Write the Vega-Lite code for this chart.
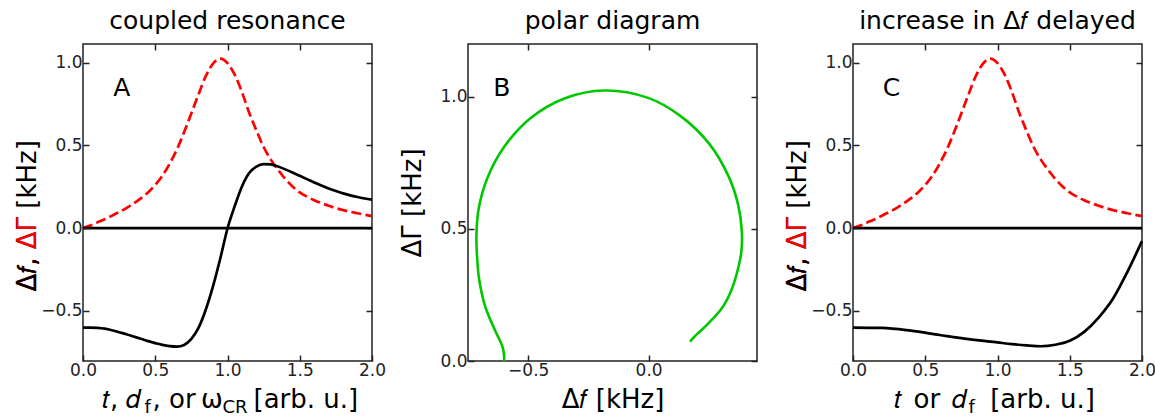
{
  "$schema": "https://vega.github.io/schema/vega-lite/v6.json",
  "padding": {"left": 13, "top": 8, "right": 2, "bottom": 2},
  "datasets": {
    "res": [
      {"x": 0.0, "df": -0.600, "dG": 0.000},
      {"x": 0.05, "df": -0.600, "dG": 0.016},
      {"x": 0.1, "df": -0.602, "dG": 0.035},
      {"x": 0.15, "df": -0.607, "dG": 0.054},
      {"x": 0.2, "df": -0.616, "dG": 0.075},
      {"x": 0.25, "df": -0.628, "dG": 0.097},
      {"x": 0.3, "df": -0.640, "dG": 0.121},
      {"x": 0.35, "df": -0.654, "dG": 0.149},
      {"x": 0.4, "df": -0.668, "dG": 0.180},
      {"x": 0.45, "df": -0.682, "dG": 0.216},
      {"x": 0.5, "df": -0.694, "dG": 0.261},
      {"x": 0.55, "df": -0.705, "dG": 0.317},
      {"x": 0.6, "df": -0.712, "dG": 0.390},
      {"x": 0.65, "df": -0.715, "dG": 0.476},
      {"x": 0.7, "df": -0.705, "dG": 0.580},
      {"x": 0.75, "df": -0.669, "dG": 0.694},
      {"x": 0.8, "df": -0.601, "dG": 0.809},
      {"x": 0.85, "df": -0.491, "dG": 0.919},
      {"x": 0.9, "df": -0.350, "dG": 0.994},
      {"x": 0.95, "df": -0.183, "dG": 1.024},
      {"x": 1.0, "df": -0.002, "dG": 0.996},
      {"x": 1.05, "df": 0.133, "dG": 0.927},
      {"x": 1.1, "df": 0.252, "dG": 0.822},
      {"x": 1.15, "df": 0.333, "dG": 0.697},
      {"x": 1.2, "df": 0.372, "dG": 0.590},
      {"x": 1.25, "df": 0.387, "dG": 0.490},
      {"x": 1.3, "df": 0.385, "dG": 0.414},
      {"x": 1.35, "df": 0.372, "dG": 0.352},
      {"x": 1.4, "df": 0.355, "dG": 0.297},
      {"x": 1.45, "df": 0.336, "dG": 0.252},
      {"x": 1.5, "df": 0.316, "dG": 0.216},
      {"x": 1.55, "df": 0.296, "dG": 0.190},
      {"x": 1.6, "df": 0.276, "dG": 0.169},
      {"x": 1.65, "df": 0.257, "dG": 0.151},
      {"x": 1.7, "df": 0.240, "dG": 0.135},
      {"x": 1.75, "df": 0.224, "dG": 0.121},
      {"x": 1.8, "df": 0.210, "dG": 0.109},
      {"x": 1.85, "df": 0.198, "dG": 0.099},
      {"x": 1.9, "df": 0.188, "dG": 0.090},
      {"x": 1.95, "df": 0.179, "dG": 0.081},
      {"x": 2.0, "df": 0.172, "dG": 0.073}
    ],
    "delay": [
      {"x": 0.0, "df": -0.600},
      {"x": 0.2, "df": -0.602},
      {"x": 0.4, "df": -0.619},
      {"x": 0.6, "df": -0.645},
      {"x": 0.8, "df": -0.670},
      {"x": 1.0, "df": -0.690},
      {"x": 1.1, "df": -0.700},
      {"x": 1.2, "df": -0.708},
      {"x": 1.3, "df": -0.713},
      {"x": 1.4, "df": -0.704},
      {"x": 1.5, "df": -0.680},
      {"x": 1.6, "df": -0.626},
      {"x": 1.7, "df": -0.540},
      {"x": 1.8, "df": -0.425},
      {"x": 1.9, "df": -0.262},
      {"x": 2.0, "df": -0.078}
    ],
    "one": [{"k": 1}]
  },
  "spacing": 96,
  "bounds": "flush",
  "hconcat": [
    {
      "width": 289, "height": 317,
      "title": "coupled resonance",
      "layer": [
        {
          "data": {"name": "res"},
          "mark": {"type": "line", "color": "#ff0000", "strokeWidth": 2.7, "strokeDash": [10, 4.3], "interpolate": "monotone"},
          "encoding": {
            "x": {"field": "x", "type": "quantitative", "scale": {"domain": [0, 2], "nice": false},
                  "axis": {"orient": "bottom", "values": [0, 0.5, 1, 1.5, 2], "format": ".1f", "title": "𝑡, 𝑑",
                           "titleAlign": "left", "titleBaseline": "alphabetic", "titleX": 18.4, "titleY": 46.7}},
            "y": {"field": "dG", "type": "quantitative", "scale": {"domain": [-0.802, 1.112], "nice": false, "zero": false},
                  "axis": {"orient": "left", "values": [-0.5, 0, 0.5, 1], "format": ".1f", "title": "Δ𝑓, ΔΓ [kHz]",
                           "titleAngle": 270, "titleAlign": "left", "titleBaseline": "alphabetic", "titleX": -48, "titleY": 247, "zindex": 1}}
          }
        },
        {
          "data": {"name": "res"},
          "mark": {"type": "line", "color": "black", "strokeWidth": 2.7, "interpolate": "monotone"},
          "encoding": {
            "x": {"field": "x", "type": "quantitative", "axis": {"orient": "top", "values": [0.5, 1, 1.5], "labels": false, "title": null}},
            "y": {"field": "df", "type": "quantitative", "axis": {"orient": "right", "values": [-0.5, 0, 0.5, 1], "labels": false, "title": null}}
          }
        },
        {
          "data": {"name": "one"},
          "mark": {"type": "rule", "color": "black", "strokeWidth": 2.7},
          "encoding": {
            "x": {"datum": 0, "type": "quantitative", "axis": {"orient": "bottom", "labels": false, "ticks": false, "title": "f", "titleFontSize": 18,
                  "titleAlign": "left", "titleBaseline": "alphabetic", "titleX": 61, "titleY": 51.5}},
            "x2": {"datum": 2},
            "y": {"datum": 0, "type": "quantitative", "axis": {"orient": "left", "labels": false, "ticks": false, "title": "Δ𝑓, ΔΓ", "titleColor": "#ff0000",
                  "titleAngle": 270, "titleAlign": "left", "titleBaseline": "alphabetic", "titleX": -48, "titleY": 247, "zindex": 2}}
          }
        },
        {
          "data": {"name": "one"},
          "mark": {"type": "text", "fontSize": 25, "color": "black", "align": "center", "baseline": "middle"},
          "encoding": {
            "text": {"value": "A"},
            "x": {"datum": 0.268, "type": "quantitative", "axis": {"orient": "bottom", "labels": false, "ticks": false, "title": ", or",
                  "titleAlign": "left", "titleBaseline": "alphabetic", "titleX": 69, "titleY": 46.7}},
            "y": {"datum": 0.849, "type": "quantitative", "axis": {"orient": "left", "labels": false, "ticks": false, "title": "Δ𝑓,", "titleColor": "black",
                  "titleAngle": 270, "titleAlign": "left", "titleBaseline": "alphabetic", "titleX": -48, "titleY": 247, "zindex": 3}}
          }
        },
        {
          "data": {"name": "one"},
          "mark": {"type": "text", "text": ""},
          "encoding": {
            "x": {"datum": 0, "type": "quantitative", "axis": {"orient": "bottom", "labels": false, "ticks": false, "title": "ω",
                  "titleAlign": "left", "titleBaseline": "alphabetic", "titleX": 117.5, "titleY": 46.7}}
          }
        },
        {
          "data": {"name": "one"},
          "mark": {"type": "text", "text": ""},
          "encoding": {
            "x": {"datum": 0, "type": "quantitative", "axis": {"orient": "bottom", "labels": false, "ticks": false, "title": "CR", "titleFontSize": 18,
                  "titleAlign": "left", "titleBaseline": "alphabetic", "titleX": 139, "titleY": 51.5}}
          }
        },
        {
          "data": {"name": "one"},
          "mark": {"type": "text", "text": ""},
          "encoding": {
            "x": {"datum": 0, "type": "quantitative", "axis": {"orient": "bottom", "labels": false, "ticks": false, "title": "[arb. u.]",
                  "titleAlign": "left", "titleBaseline": "alphabetic", "titleX": 170, "titleY": 46.7}}
          }
        }
      ],
      "resolve": {"axis": {"x": "independent", "y": "independent"}}
    },
    {
      "width": 289, "height": 317,
      "title": "polar diagram",
      "layer": [
        {
          "data": {"name": "res"},
          "mark": {"type": "line", "color": "#00c800", "strokeWidth": 2.6, "interpolate": "catmull-rom"},
          "encoding": {
            "x": {"field": "df", "type": "quantitative", "scale": {"domain": [-0.75, 0.45], "nice": false, "zero": false},
                  "axis": {"orient": "bottom", "values": [-0.5, 0], "format": ".1f", "title": "Δ𝑓 [kHz]",
                           "titleAlign": "center", "titleBaseline": "alphabetic", "titleX": 144.5, "titleY": 46.7}},
            "y": {"field": "dG", "type": "quantitative", "scale": {"domain": [0, 1.2], "nice": false},
                  "axis": {"orient": "left", "values": [0, 0.5, 1], "format": ".1f", "title": "ΔΓ [kHz]",
                           "titleAngle": 270, "titleAlign": "center", "titleBaseline": "alphabetic", "titleX": -48, "titleY": 158.5}},
            "order": {"field": "x", "type": "quantitative"}
          }
        },
        {
          "data": {"name": "one"},
          "mark": {"type": "text", "fontSize": 25, "color": "black", "align": "center", "baseline": "middle"},
          "encoding": {
            "text": {"value": "B"},
            "x": {"datum": -0.61, "type": "quantitative", "axis": {"orient": "top", "values": [-0.5, 0], "labels": false, "title": null}},
            "y": {"datum": 1.035, "type": "quantitative", "axis": {"orient": "right", "values": [0, 0.5, 1], "labels": false, "title": null}}
          }
        }
      ],
      "resolve": {"axis": {"x": "independent", "y": "independent"}}
    },
    {
      "width": 289, "height": 317,
      "title": "increase in Δ𝑓 delayed",
      "layer": [
        {
          "data": {"name": "res"},
          "mark": {"type": "line", "color": "#ff0000", "strokeWidth": 2.7, "strokeDash": [10, 4.3], "interpolate": "monotone"},
          "encoding": {
            "x": {"field": "x", "type": "quantitative", "scale": {"domain": [0, 2], "nice": false},
                  "axis": {"orient": "bottom", "values": [0, 0.5, 1, 1.5, 2], "format": ".1f", "title": "𝑡",
                           "titleAlign": "left", "titleBaseline": "alphabetic", "titleX": 40, "titleY": 46.7}},
            "y": {"field": "dG", "type": "quantitative", "scale": {"domain": [-0.802, 1.112], "nice": false, "zero": false},
                  "axis": {"orient": "left", "values": [-0.5, 0, 0.5, 1], "format": ".1f", "title": "Δ𝑓, ΔΓ [kHz]",
                           "titleAngle": 270, "titleAlign": "left", "titleBaseline": "alphabetic", "titleX": -48, "titleY": 247, "zindex": 1}}
          }
        },
        {
          "data": {"name": "delay"},
          "mark": {"type": "line", "color": "black", "strokeWidth": 2.7, "interpolate": "monotone"},
          "encoding": {
            "x": {"field": "x", "type": "quantitative", "axis": {"orient": "top", "values": [0.5, 1, 1.5], "labels": false, "title": null}},
            "y": {"field": "df", "type": "quantitative", "axis": {"orient": "right", "values": [-0.5, 0, 0.5, 1], "labels": false, "title": null}}
          }
        },
        {
          "data": {"name": "one"},
          "mark": {"type": "rule", "color": "black", "strokeWidth": 2.7},
          "encoding": {
            "x": {"datum": 0, "type": "quantitative", "axis": {"orient": "bottom", "labels": false, "ticks": false, "title": "f", "titleFontSize": 18,
                  "titleAlign": "left", "titleBaseline": "alphabetic", "titleX": 115, "titleY": 51.5}},
            "x2": {"datum": 2},
            "y": {"datum": 0, "type": "quantitative", "axis": {"orient": "left", "labels": false, "ticks": false, "title": "Δ𝑓, ΔΓ", "titleColor": "#ff0000",
                  "titleAngle": 270, "titleAlign": "left", "titleBaseline": "alphabetic", "titleX": -48, "titleY": 247, "zindex": 2}}
          }
        },
        {
          "data": {"name": "one"},
          "mark": {"type": "text", "fontSize": 25, "color": "black", "align": "center", "baseline": "middle"},
          "encoding": {
            "text": {"value": "C"},
            "x": {"datum": 0.266, "type": "quantitative", "axis": {"orient": "bottom", "labels": false, "ticks": false, "title": "[arb. u.]",
                  "titleAlign": "left", "titleBaseline": "alphabetic", "titleX": 136.7, "titleY": 46.7}},
            "y": {"datum": 0.849, "type": "quantitative", "axis": {"orient": "left", "labels": false, "ticks": false, "title": "Δ𝑓,", "titleColor": "black",
                  "titleAngle": 270, "titleAlign": "left", "titleBaseline": "alphabetic", "titleX": -48, "titleY": 247, "zindex": 3}}
          }
        },
        {
          "data": {"name": "one"},
          "mark": {"type": "text", "text": ""},
          "encoding": {
            "x": {"datum": 0, "type": "quantitative", "axis": {"orient": "bottom", "labels": false, "ticks": false, "title": "or",
                  "titleAlign": "left", "titleBaseline": "alphabetic", "titleX": 60, "titleY": 46.7}}
          }
        },
        {
          "data": {"name": "one"},
          "mark": {"type": "text", "text": ""},
          "encoding": {
            "x": {"datum": 0, "type": "quantitative", "axis": {"orient": "bottom", "labels": false, "ticks": false, "title": "𝑑",
                  "titleAlign": "left", "titleBaseline": "alphabetic", "titleX": 98.4, "titleY": 46.7}}
          }
        }
      ],
      "resolve": {"axis": {"x": "independent", "y": "independent"}}
    }
  ],
  "config": {
    "font": "DejaVu Sans",
    "view": {"stroke": "#222222", "strokeWidth": 1.5},
    "axis": {
      "domain": false, "grid": false,
      "tickSize": -6, "tickWidth": 1.5, "tickColor": "#222222",
      "labelFont": "DejaVu Sans", "labelFontSize": 17, "labelColor": "#222222", "labelPadding": 7,
      "labelFlush": false, "labelOverlap": false,
      "titleFont": "DejaVu Sans", "titleFontSize": 26, "titleFontWeight": "normal", "titleColor": "black", "titlePadding": 4
    },
    "title": {"font": "DejaVu Sans", "fontSize": 25, "fontWeight": "normal", "color": "black", "offset": 9}
  }
}
